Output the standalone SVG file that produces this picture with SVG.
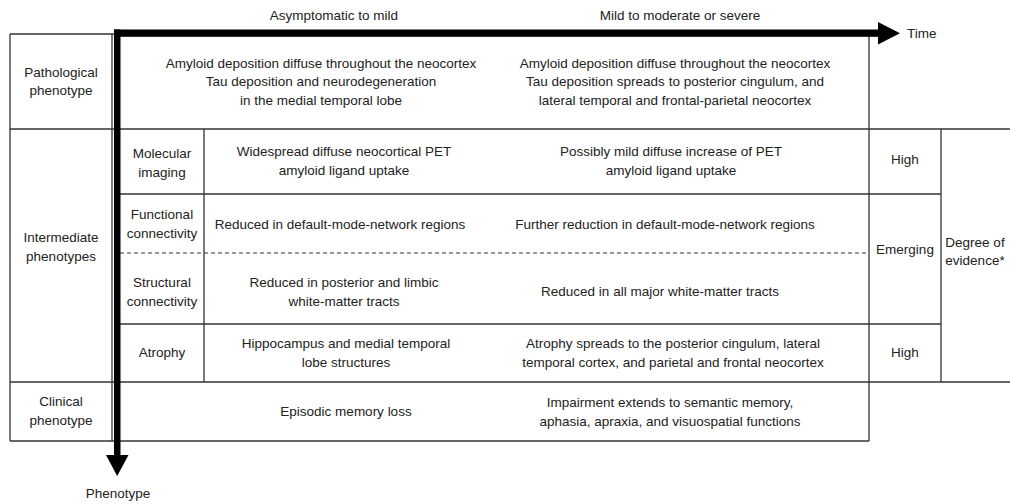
<svg xmlns="http://www.w3.org/2000/svg" width="1010" height="504" viewBox="0 0 1010 504">
<style>
text{font-family:"Liberation Sans",Arial,sans-serif;font-size:13.5px;fill:#222;text-anchor:middle;dominant-baseline:central}
.ln{stroke:#333;stroke-width:1.3;fill:none}
.dash{stroke:#333;stroke-width:1.1;stroke-dasharray:4 3;fill:none}
.ax{fill:#000}
</style>
<rect width="1010" height="504" fill="#fff"/>
<g id="grid">
<line class="ln" x1="10" y1="34" x2="869" y2="34"/>
<line class="ln" x1="10" y1="34" x2="10" y2="441"/>
<line class="ln" x1="112" y1="34" x2="112" y2="441"/>
<line class="ln" x1="10" y1="129" x2="1010" y2="129"/>
<line class="ln" x1="120" y1="194" x2="941" y2="194"/>
<line class="dash" x1="120" y1="253" x2="869" y2="253"/>
<line class="ln" x1="120" y1="324" x2="941" y2="324"/>
<line class="ln" x1="10" y1="382" x2="1010" y2="382"/>
<line class="ln" x1="10" y1="441" x2="869" y2="441"/>
<line class="ln" x1="204" y1="129" x2="204" y2="382"/>
<line class="ln" x1="869" y1="36" x2="869" y2="441"/>
<line class="ln" x1="941" y1="129" x2="941" y2="382"/>
</g>
<g id="connectors">
<rect class="ax" x="114" y="29.5" width="765" height="7.3"/>
<polygon class="ax" points="878,22 900,33.2 878,44.4"/>
<rect class="ax" x="114" y="29.5" width="6.5" height="426"/>
<polygon class="ax" points="106,455 128.5,455 117.2,476"/>
</g>
<g id="axis-labels">
<text x="334" y="15">Asymptomatic to mild</text>
<text x="680" y="15">Mild to moderate or severe</text>
<text x="907" y="33" style="text-anchor:start">Time</text>
<text x="118" y="493">Phenotype</text>
</g>
<g id="pathological">
<text x="61" y="72">Pathological</text>
<text x="61" y="90.5">phenotype</text>
<text x="321" y="63">Amyloid deposition diffuse throughout the neocortex</text>
<text x="321" y="81.5">Tau deposition and neurodegeneration</text>
<text x="321" y="100">in the medial temporal lobe</text>
<text x="675" y="63">Amyloid deposition diffuse throughout the neocortex</text>
<text x="675" y="81.5">Tau deposition spreads to posterior cingulum, and</text>
<text x="675" y="100">lateral temporal and frontal-parietal neocortex</text>
</g>
<g id="intermediate">
<text x="61" y="237">Intermediate</text>
<text x="61" y="256">phenotypes</text>
</g>
<g id="molecular">
<text x="162" y="153">Molecular</text>
<text x="162" y="172">imaging</text>
<text x="344" y="151">Widespread diffuse neocortical PET</text>
<text x="344" y="170">amyloid ligand uptake</text>
<text x="671" y="151">Possibly mild diffuse increase of PET</text>
<text x="671" y="170">amyloid ligand uptake</text>
<text x="905" y="159">High</text>
</g>
<g id="functional">
<text x="162" y="214">Functional</text>
<text x="162" y="233">connectivity</text>
<text x="340" y="224">Reduced in default-mode-network regions</text>
<text x="665" y="224">Further reduction in default-mode-network regions</text>
<text x="905" y="249">Emerging</text>
</g>
<g id="evidence">
<text x="975" y="242">Degree of</text>
<text x="975" y="260">evidence*</text>
</g>
<g id="structural">
<text x="162" y="282">Structural</text>
<text x="162" y="301">connectivity</text>
<text x="344" y="282">Reduced in posterior and limbic</text>
<text x="344" y="301">white-matter tracts</text>
<text x="660" y="291">Reduced in all major white-matter tracts</text>
</g>
<g id="atrophy">
<text x="162" y="352">Atrophy</text>
<text x="346" y="343">Hippocampus and medial temporal</text>
<text x="346" y="362">lobe structures</text>
<text x="673" y="343">Atrophy spreads to the posterior cingulum, lateral</text>
<text x="673" y="362">temporal cortex, and parietal and frontal neocortex</text>
<text x="905" y="352">High</text>
</g>
<g id="clinical">
<text x="61" y="401">Clinical</text>
<text x="61" y="420">phenotype</text>
<text x="346" y="411">Episodic memory loss</text>
<text x="670" y="402">Impairment extends to semantic memory,</text>
<text x="670" y="421">aphasia, apraxia, and visuospatial functions</text>
</g>
</svg>
